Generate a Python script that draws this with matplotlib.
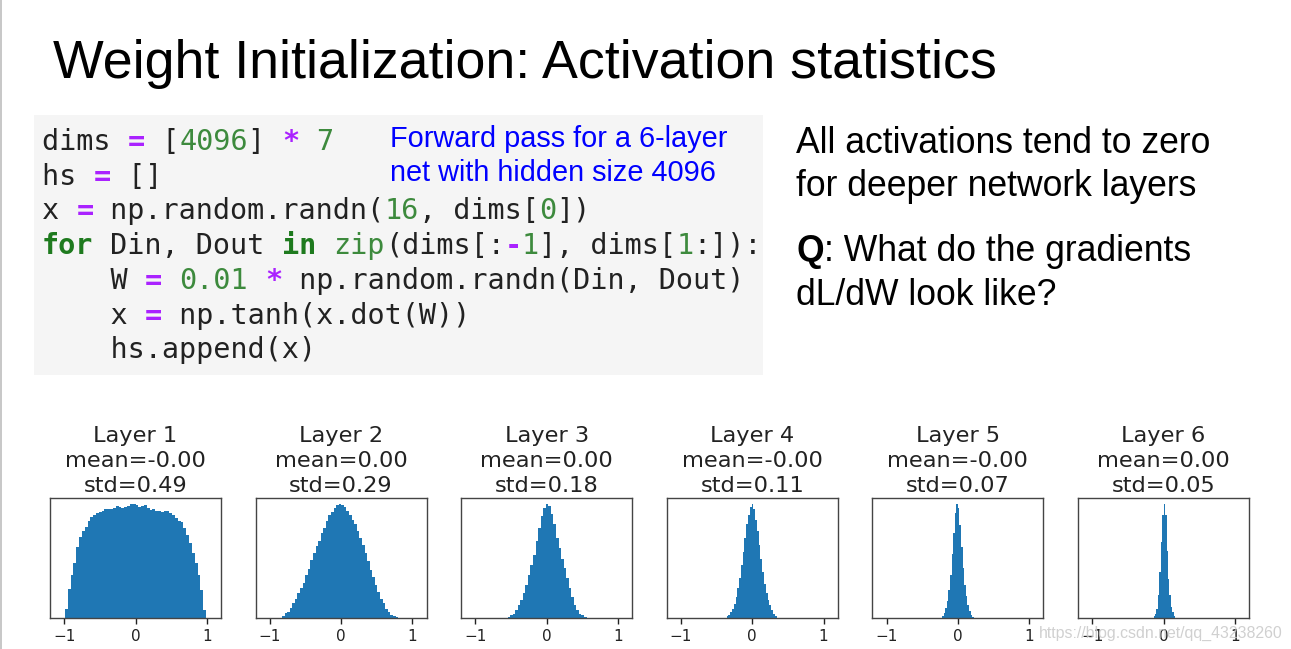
import numpy as np
import matplotlib
matplotlib.use("Agg")
import matplotlib.pyplot as plt
from matplotlib.patches import Rectangle

W, H = 1291, 649
DPI = 100

# ---------------- data ----------------
layer_names = ["Layer 1", "Layer 2", "Layer 3", "Layer 4", "Layer 5", "Layer 6"]
layer_means = ["-0.00", "0.00", "0.00", "-0.00", "-0.00", "0.00"]
layer_stds = [0.49, 0.29, 0.18, 0.11, 0.07, 0.05]

# histogram bar heights (relative) and data range of bins
layer1_range = (-0.99, 0.99)
layer1_heights = [0.08, 0.25, 0.38, 0.48, 0.62, 0.71, 0.76, 0.80, 0.85, 0.88,
                  0.90, 0.92, 0.93, 0.94, 0.95, 0.955, 0.955, 0.96, 0.98, 0.97,
                  0.965, 0.97, 0.98, 1.0, 1.0, 0.99, 0.975, 0.98, 0.985, 0.965,
                  0.945, 0.95, 0.935, 0.935, 0.925, 0.94, 0.935, 0.92, 0.905, 0.875,
                  0.85, 0.84, 0.79, 0.73, 0.66, 0.57, 0.48, 0.38, 0.245, 0.07]
layer2_range = (-0.83, 0.80)
layer2_heights = [0.02, 0.04, 0.05, 0.09, 0.13, 0.17, 0.22, 0.26, 0.31, 0.38,
                  0.43, 0.51, 0.57, 0.63, 0.67, 0.74, 0.79, 0.85, 0.90, 0.93,
                  0.96, 0.985, 1.0, 0.985, 0.97, 0.94, 0.90, 0.86, 0.82, 0.76,
                  0.70, 0.64, 0.57, 0.50, 0.42, 0.355, 0.29, 0.225, 0.165, 0.13,
                  0.08, 0.05, 0.03, 0.02, 0.01]
layer3_range = (-0.55, 0.56)
layer3_heights = [0.01, 0.024, 0.038, 0.068, 0.11, 0.156, 0.215, 0.29, 0.376, 0.465,
                  0.553, 0.67, 0.79, 0.89, 0.965, 1.0, 0.98, 0.91, 0.82, 0.70,
                  0.61, 0.52, 0.435, 0.347, 0.26, 0.185, 0.11, 0.068, 0.038, 0.024,
                  0.01]
layer4_range = (-0.36, 0.34)
layer4_heights = [0.015, 0.03, 0.053, 0.082, 0.126, 0.185, 0.26, 0.347, 0.465, 0.58,
                  0.70, 0.82, 0.905, 0.97, 1.0, 0.95, 0.86, 0.76, 0.64, 0.52,
                  0.405, 0.30, 0.215, 0.156, 0.11, 0.068, 0.038, 0.018]
layer5_range = (-0.224, 0.224)
layer5_heights = [0.018, 0.048, 0.084, 0.15, 0.248, 0.38, 0.56, 0.74, 0.92, 1.0,
                  0.964, 0.815, 0.62, 0.44, 0.29, 0.19, 0.113, 0.06, 0.03, 0.012]
layer6_range = (-0.14, 0.164)
layer6_heights = [0.017, 0.038, 0.082, 0.2, 0.40, 0.665, 0.90, 1.0, 0.90, 0.59,
                  0.344, 0.2, 0.096, 0.052, 0.017]

x_ticks = [-1, 0, 1]
x_tick_labels = ["\u22121", "0", "1"]

title_text = "Weight Initialization: Activation statistics"
blue_note = ["Forward pass for a 6-layer", "net with hidden size 4096"]
right_lines = ["All activations tend to zero", "for deeper network layers"]
q_rest = [": What do the gradients", "dL/dW look like?"]
watermark = "https://blog.csdn.net/qq_43238260"

PURPLE = "#aa22ff"
GREEN = "#3d8a3d"
KW = "#1e7a1e"
TXT = "#222222"
code_lines = [
    [("dims ", TXT, "normal"), ("=", PURPLE, "bold"), (" [", TXT, "normal"), ("4096", GREEN, "normal"),
     ("] ", TXT, "normal"), ("*", PURPLE, "bold"), (" ", TXT, "normal"), ("7", GREEN, "normal")],
    [("hs ", TXT, "normal"), ("=", PURPLE, "bold"), (" []", TXT, "normal")],
    [("x ", TXT, "normal"), ("=", PURPLE, "bold"), (" np.random.randn(", TXT, "normal"), ("16", GREEN, "normal"),
     (", dims[", TXT, "normal"), ("0", GREEN, "normal"), ("])", TXT, "normal")],
    [("for", KW, "bold"), (" Din, Dout ", TXT, "normal"), ("in", KW, "bold"), (" ", TXT, "normal"),
     ("zip", GREEN, "normal"), ("(dims[:", TXT, "normal"), ("-", PURPLE, "bold"), ("1", GREEN, "normal"),
     ("], dims[", TXT, "normal"), ("1", GREEN, "normal"), (":]):", TXT, "normal")],
    [("    W ", TXT, "normal"), ("=", PURPLE, "bold"), (" ", TXT, "normal"), ("0.01", GREEN, "normal"),
     (" ", TXT, "normal"), ("*", PURPLE, "bold"), (" np.random.randn(Din, Dout)", TXT, "normal")],
    [("    x ", TXT, "normal"), ("=", PURPLE, "bold"), (" np.tanh(x.dot(W))", TXT, "normal")],
    [("    hs.append(x)", TXT, "normal")],
]

hist_ranges = [layer1_range, layer2_range, layer3_range, layer4_range, layer5_range, layer6_range]
hist_heights = [layer1_heights, layer2_heights, layer3_heights, layer4_heights, layer5_heights, layer6_heights]

# ---------------- figure ----------------
fig = plt.figure(figsize=(W / DPI, H / DPI), dpi=DPI)
fig.patch.set_facecolor("white")


def fx(x):
    return x / W


def fy(y):
    return 1 - y / H


SANS = ["Liberation Sans", "DejaVu Sans"]

# left slide border
fig.patches.append(Rectangle((0, 0), fx(2), 1, transform=fig.transFigure,
                             facecolor="#c8c8c8", edgecolor="none"))

# title
fig.text(fx(53), fy(78), title_text, fontsize=38.7, family=SANS, color="black", va="baseline", ha="left")

# code block background
fig.patches.append(Rectangle((fx(34), fy(375)), fx(763 - 34), (375 - 115) / H,
                             transform=fig.transFigure, facecolor="#f5f5f5", edgecolor="none"))

code_fs = 20.5
char_w = 0.602 * code_fs * DPI / 72.0
for i, toks in enumerate(code_lines):
    yb = 150 + i * 34.7
    col = 0
    for t, c, w in toks:
        fig.text(fx(42 + col * char_w), fy(yb), t, fontsize=code_fs, family="DejaVu Sans Mono",
                 color=c, fontweight=w, va="baseline", ha="left")
        col += len(t)

for i, s in enumerate(blue_note):
    fig.text(fx(390), fy(147 + i * 34), s, fontsize=20.8, family=SANS, color="#0000ff",
             va="baseline", ha="left")

RFS = 25.6
for i, s in enumerate(right_lines):
    fig.text(fx(796), fy(153 + i * 43), s, fontsize=RFS, family=SANS, color="black",
             va="baseline", ha="left")
tq = fig.text(fx(796), fy(261), "Q", fontsize=RFS, family=SANS, color="black",
              fontweight="bold", va="baseline", ha="left")
fig.canvas.draw()
qw = tq.get_window_extent().width
fig.text(fx(796 + qw), fy(261), q_rest[0], fontsize=RFS, family=SANS, color="black",
         va="baseline", ha="left")
fig.text(fx(796), fy(305), q_rest[1], fontsize=RFS, family=SANS, color="black",
         va="baseline", ha="left")

# histograms
ax_left0 = 50
ax_step = 205.6
ax_w = 171
ax_top = 498
ax_bot = 618
SPINE = "#444444"
for i in range(6):
    left = ax_left0 + i * ax_step
    ax = fig.add_axes([fx(left), fy(ax_bot), ax_w / W, (ax_bot - ax_top) / H])
    hts = np.asarray(hist_heights[i])
    lo, hi = hist_ranges[i]
    edges = np.linspace(lo, hi, len(hts) + 1)
    ax.hist(edges[:-1], bins=edges, weights=hts, color="#1f77b4", histtype="stepfilled",
            linewidth=0)
    ax.set_xlim(-1.2, 1.2)
    ax.set_yticks([])
    ax.set_xticks(x_ticks)
    ax.set_xticklabels(x_tick_labels)
    ax.tick_params(axis="x", labelsize=11, colors="#222222", length=4.5, width=1, pad=3.5)
    for sp in ax.spines.values():
        sp.set_color(SPINE)
        sp.set_linewidth(1.0)
    cx = left + ax_w / 2
    fig.text(fx(cx), fy(441.7), layer_names[i], fontsize=16.2, family="DejaVu Sans",
             color="#222222", ha="center", va="baseline")
    fig.text(fx(cx), fy(467.3), "mean=" + layer_means[i], fontsize=16.2, family="DejaVu Sans",
             color="#222222", ha="center", va="baseline")
    fig.text(fx(cx), fy(491.7), "std=%.2f" % layer_stds[i], fontsize=16.2, family="DejaVu Sans",
             color="#222222", ha="center", va="baseline")

fig.text(fx(1039), fy(638), watermark, fontsize=11.4, family=SANS, color="#c8c8c8",
         alpha=0.85, ha="left", va="baseline")

fig.savefig("out.png", dpi=DPI)
